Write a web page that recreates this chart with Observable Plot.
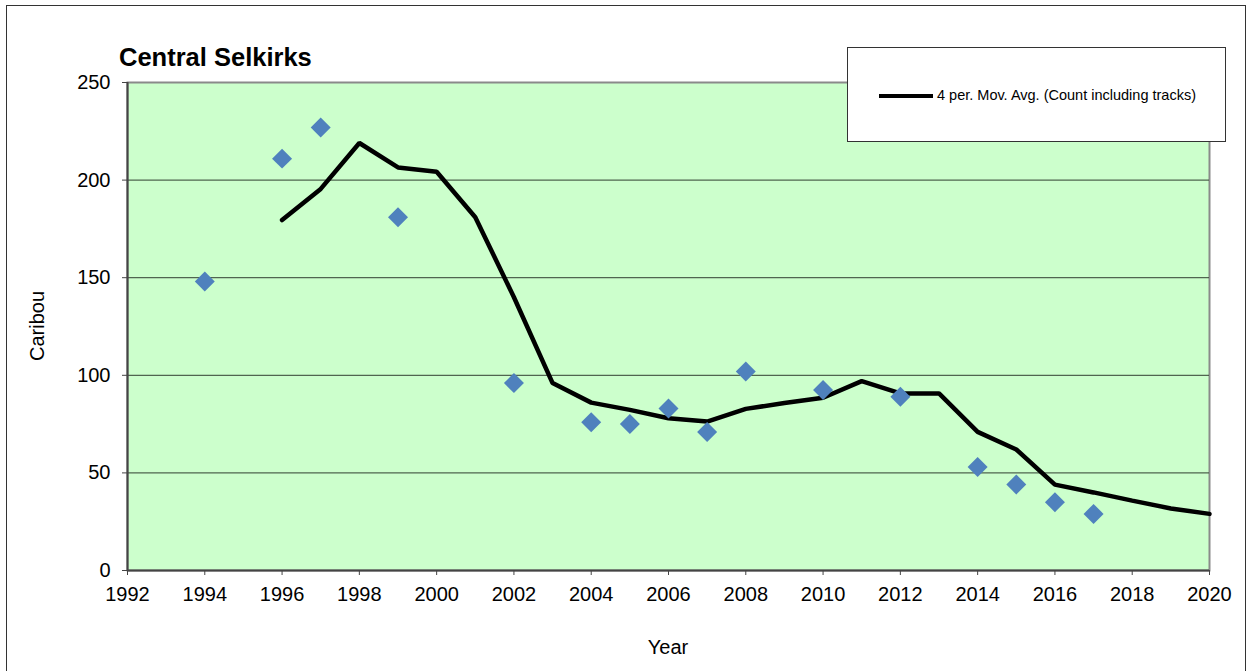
<!DOCTYPE html>
<html>
<head>
<meta charset="utf-8">
<script src="https://cdn.jsdelivr.net/npm/d3@7"></script>
<script src="https://cdn.jsdelivr.net/npm/@observablehq/plot@0.6"></script>
<style>
  html, body { margin: 0; padding: 0; background: #fff; }
  #wrap { position: relative; width: 1254px; height: 671px; overflow: hidden; font-family: "Liberation Sans", Arial, sans-serif; }
  #border { position: absolute; left: 6px; top: 5px; width: 1240px; height: 720px; border: 1.5px solid #333; box-sizing: border-box; }
  #chart { position: absolute; left: 0; top: 0; }
  #title { position: absolute; left: 119px; top: 45px; font-size: 25.5px; font-weight: bold; color: #000; line-height: 1; }
  #legend { position: absolute; left: 847px; top: 47px; width: 379px; height: 95px; background: #fff; border: 1.5px solid #333; box-sizing: border-box; }
  #legend .sw { position: absolute; left: 31px; top: 46px; width: 54px; height: 4px; background: #000; }
  #legend .tx { position: absolute; left: 89px; top: 39px; font-size: 14.5px; color: #000; white-space: nowrap; }
  #ylab { position: absolute; left: 37px; top: 326px; transform: translate(-50%, -50%) rotate(-90deg); font-size: 20px; color: #000; white-space: nowrap; }
  #xlab { position: absolute; left: 668px; top: 636px; transform: translateX(-50%); font-size: 20px; color: #000; white-space: nowrap; }
</style>
</head>
<body>
<div id="wrap">
  <div id="border"></div>
  <div id="chart"></div>
  <div id="title">Central Selkirks</div>
  <div id="legend"><div class="sw"></div><div class="tx">4 per. Mov. Avg. (Count including tracks)</div></div>
  <div id="ylab">Caribou</div>
  <div id="xlab">Year</div>
</div>
<script>
// Observed counts (diamonds)
const countYears = [1994, 1996, 1997, 1999, 2002, 2004, 2005, 2006, 2007, 2008, 2010, 2012, 2014, 2015, 2016, 2017];
const countValues = [148, 211, 227, 181, 96, 76, 75, 83, 71, 102, 92.5, 89, 53, 44, 35, 29];

// 4 period moving average line
const avgYears = [1996, 1997, 1998, 1999, 2000, 2001, 2002, 2003, 2004, 2005, 2006, 2007, 2008, 2009, 2010, 2011, 2012, 2013, 2014, 2015, 2016, 2017, 2018, 2019, 2020];
const avgValues = [179.5, 195.5, 219, 206.5, 204.3, 181, 140, 96, 86, 82.3, 78, 76.3, 82.8, 85.8, 88.5, 97, 90.7, 90.7, 71, 62, 44, 40, 35.8, 31.8, 29];

const xTicks = d3.range(1992, 2021, 2);
const yTicks = [0, 50, 100, 150, 200, 250];
const gridValues = [50, 100, 150, 200];

const counts = countYears.map((year, i) => ({year, value: countValues[i]}));
const avg = avgYears.map((year, i) => ({year, value: avgValues[i]}));

const chart = Plot.plot({
  width: 1254,
  height: 671,
  marginLeft: 127,
  marginRight: 45,
  marginTop: 82,
  marginBottom: 101,
  style: { fontFamily: "'Liberation Sans', Arial, sans-serif", fontSize: "20px", background: "transparent", color: "#000", overflow: "visible" },
  x: { domain: [1992, 2020], ticks: xTicks, tickFormat: d => String(d) },
  y: { domain: [0, 250], ticks: yTicks },
  marks: [
    Plot.frame({ fill: "#CCFFCC", stroke: "#8a8a8a", strokeWidth: 2 }),
    Plot.ruleY(gridValues, { stroke: "#3a4a3a", strokeWidth: 1.2, strokeOpacity: 0.85 }),
    Plot.ruleX([1992], { stroke: "#444", strokeWidth: 2 }),
    Plot.ruleY([0], { stroke: "#444", strokeWidth: 2 }),
    Plot.axisX({ ticks: xTicks, tickFormat: d => String(d), tickSize: 5, tickPadding: 11, label: null, stroke: "#444", fontSize: 20 }),
    Plot.axisY({ ticks: yTicks, tickSize: 5, tickPadding: 12, label: null, stroke: "#444", fontSize: 20 }),
    Plot.line(avg, { x: "year", y: "value", stroke: "#000", strokeWidth: 4.5, strokeLinejoin: "miter", strokeLinecap: "round" }),
    Plot.dot(counts, { x: "year", y: "value", symbol: "diamond2", r: 9, fill: "#4F81BD", stroke: "none" })
  ]
});
document.getElementById("chart").appendChild(chart);
</script>
</body>
</html>
